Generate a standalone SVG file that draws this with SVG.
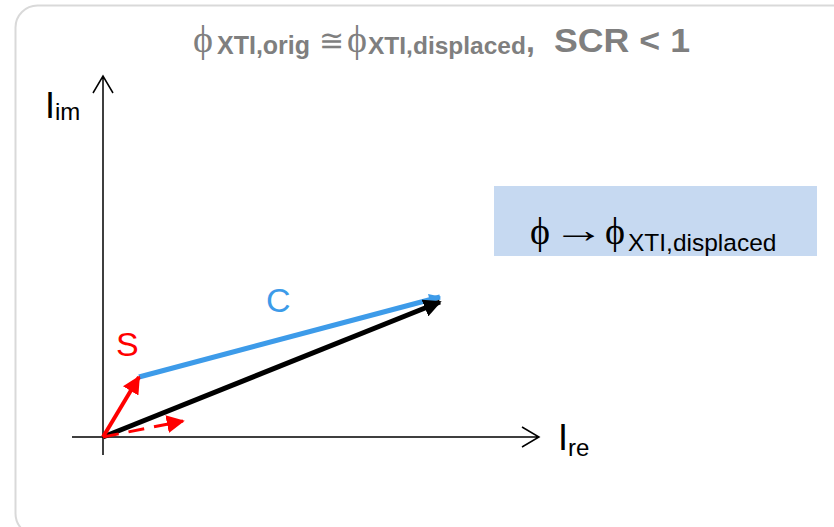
<svg xmlns="http://www.w3.org/2000/svg" width="834" height="527" viewBox="0 0 834 527">
<style>
.ax{stroke:#000;stroke-width:1.5;fill:none}
.sans{font-family:"Liberation Sans",Arial,sans-serif}
.serif{font-family:"Liberation Serif","DejaVu Serif",serif}
.tb{font-family:"Liberation Sans",Arial,sans-serif;font-weight:bold;fill:#7f7f7f}
.ts{font-family:"Liberation Serif","DejaVu Serif",serif;fill:#7f7f7f}
</style>
<defs>
<marker id="hk" viewBox="0 0 10 10" refX="9" refY="5" markerWidth="18" markerHeight="18" markerUnits="userSpaceOnUse" orient="auto"><path d="M0,0 L10,5 L0,10 Z" fill="#000"/></marker>
<marker id="hb" viewBox="0 0 10 10" refX="9" refY="5" markerWidth="14" markerHeight="12" markerUnits="userSpaceOnUse" orient="auto"><path d="M0,0 L10,5 L0,10 Z" fill="#3d9be9"/></marker>
<marker id="hr" viewBox="0 0 10 10" refX="9" refY="5" markerWidth="18" markerHeight="18" markerUnits="userSpaceOnUse" orient="auto"><path d="M0,0 L10,5 L0,10 Z" fill="#ff0000"/></marker>
</defs>
<rect id="frame" x="15.5" y="5.5" width="840" height="530" rx="22" fill="#fff" stroke="#d9d9d9" stroke-width="2"/>
<g id="title">
<text class="ts" x="193" y="52" font-size="38">ϕ</text>
<text class="tb" x="217" y="54" font-size="25">XTI,orig</text>
<text class="ts" x="319" y="51" font-size="30">≅</text>
<text class="ts" x="347" y="52" font-size="38">ϕ</text>
<text class="tb" x="368" y="54" font-size="24.5">XTI,displaced</text>
<text class="tb" x="526" y="52" font-size="32">,</text>
<text class="tb" x="554" y="52" font-size="33" textLength="136" lengthAdjust="spacingAndGlyphs">SCR &lt; 1</text>
</g>
<g id="box">
<rect x="494" y="186" width="323" height="70" fill="#c6d9f1"/>
<text class="serif" x="530" y="244" font-size="38">ϕ</text>
<text class="serif" x="553" y="242" font-size="36" textLength="52" lengthAdjust="spacingAndGlyphs">→</text>
<text class="serif" x="605" y="244" font-size="38">ϕ</text>
<text class="sans" x="628" y="251" font-size="24.5">XTI,displaced</text>
</g>
<g id="axes">
<path class="ax" d="M103,455 V76 M93,93 L103,76 L113,93"/>
<path class="ax" d="M72,437 H539 M522,427 L539,437 L522,447"/>
<text class="sans" x="45" y="118" font-size="36">I<tspan font-size="24" dy="2">im</tspan></text>
<text class="sans" x="558" y="450" font-size="36">I<tspan font-size="24" dy="6">re</tspan></text>
</g>
<g id="connectors">
<line x1="139" y1="377" x2="440" y2="297" stroke="#3d9be9" stroke-width="5" marker-end="url(#hb)"/>
<line x1="103" y1="437" x2="440" y2="302" stroke="#000" stroke-width="5" marker-end="url(#hk)"/>
<line x1="103" y1="437" x2="139" y2="377" stroke="#ff0000" stroke-width="4" marker-end="url(#hr)"/>
<line x1="103" y1="437" x2="183" y2="421" stroke="#ff0000" stroke-width="3" stroke-dasharray="16,10" marker-end="url(#hr)"/>
</g>
<g id="labels">
<text class="sans" x="266" y="312" font-size="34" fill="#3d9be9">C</text>
<text class="sans" x="116" y="356" font-size="34" fill="#ff0000">S</text>
</g>
</svg>
